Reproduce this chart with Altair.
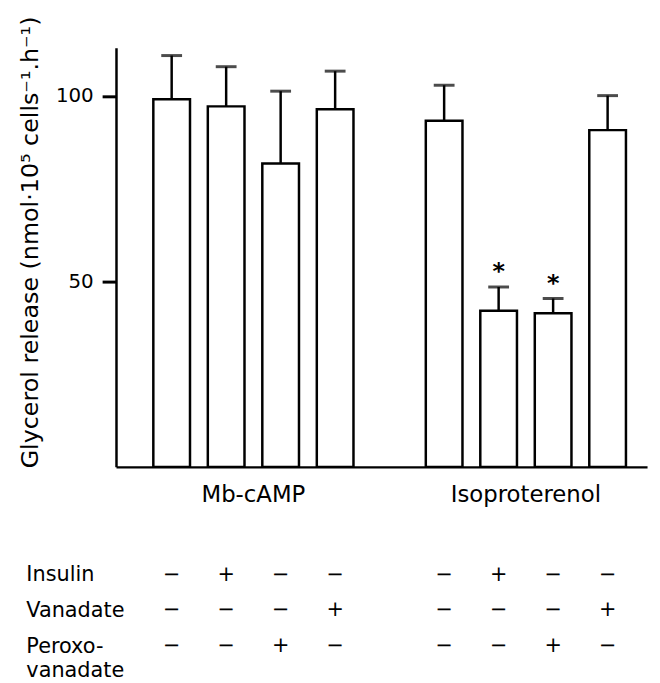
import altair as alt
import pandas as pd

# ---- data ----
groups = ["Mb-cAMP"] * 4 + ["Isoproterenol"] * 4
treatments = ["Control", "Insulin", "Peroxovanadate", "Vanadate"] * 2
means = [99.1, 97.2, 81.8, 96.4, 93.3, 42.1, 41.4, 90.8]
sems = [11.8, 10.7, 19.5, 10.3, 9.6, 6.4, 4.0, 9.3]
significance = ["", "", "", "", "", "*", "*", ""]

row_labels = ["Insulin", "Vanadate", "Peroxo-\nvanadate"]
insulin_signs = ["−", "+", "−", "−", "−", "+", "−", "−"]
vanadate_signs = ["−", "−", "−", "+", "−", "−", "−", "+"]
peroxo_signs = ["−", "−", "+", "−", "−", "−", "+", "−"]

group_order = ["Mb-cAMP", "Isoproterenol"]
treat_order = ["Control", "Insulin", "Peroxovanadate", "Vanadate"]

y_ticks = [50, 100]
y_title = "Glycerol release (nmol·10⁵ cells⁻¹.h⁻¹)"

# ---- tables ----
df = pd.DataFrame({"group": groups, "treatment": treatments,
                   "mean": means, "sem": sems, "sig": significance})
df["upper"] = df["mean"] + df["sem"]

rows = []
for lab, signs in zip(row_labels, [insulin_signs, vanadate_signs, peroxo_signs]):
    for g, t, s in zip(groups, treatments, signs):
        rows.append({"row": lab, "group": g, "treatment": t, "sign": s})
tdf = pd.DataFrame(rows)

FONT = "DejaVu Sans"
W = 536

x_scale = alt.Scale(paddingInner=0.2, paddingOuter=0.0745, align=0.7)
xo_scale = alt.Scale(paddingInner=0.327, paddingOuter=0.1636)


def x_enc(axis):
    return alt.X("group:N", sort=group_order, scale=x_scale, axis=axis)


xo = alt.XOffset("treatment:N", sort=treat_order, scale=xo_scale)

x_axis = alt.Axis(title=None, labelAngle=0, ticks=False, domain=True,
                  domainColor="black", domainWidth=2.5, labelFontSize=23,
                  labelPadding=17, labelColor="black", labelFont=FONT)

y_axis = alt.Axis(values=y_ticks, title=y_title, grid=False, domainColor="black",
                  domainWidth=2.5, tickColor="black", tickWidth=3, tickSize=14,
                  labelPadding=9, labelFontSize=20, labelFont=FONT, labelColor="black",
                  titleFont=FONT, titleFontSize=24, titleFontWeight="normal",
                  titleColor="black", titleX=-86, titleY=196, titleAlign="center",
                  titleBaseline="middle", titleAngle=-90)
y_scale = alt.Scale(domain=[0, 113], nice=False)


def y_enc(field):
    return alt.Y(field + ":Q", scale=y_scale, axis=y_axis)


base = alt.Chart(df)
bars = base.mark_bar(fill="white", stroke="black", strokeWidth=2.5).encode(
    x=x_enc(x_axis), xOffset=xo, y=y_enc("mean"))
err = base.mark_rule(color="black", strokeWidth=2.5).encode(
    x=x_enc(x_axis), xOffset=xo, y=y_enc("mean"), y2="upper:Q")
caps = base.mark_tick(color="black", size=21, thickness=3, orient="horizontal").encode(
    x=x_enc(x_axis), xOffset=xo, y=y_enc("upper"))
stars = base.transform_filter("datum.sig != ''").mark_text(
    font=FONT, fontSize=24, fontWeight="bold", color="black",
    baseline="alphabetic", dy=-8).encode(
    x=x_enc(x_axis), xOffset=xo, y=y_enc("upper"), text="sig:N")

main = alt.layer(bars, err, caps, stars).properties(width=W, height=423)

table = alt.Chart(tdf).mark_text(font=FONT, fontSize=21, color="black",
                                 baseline="alphabetic").encode(
    x=x_enc(None), xOffset=xo,
    y=alt.Y("row:N", sort=row_labels,
            scale=alt.Scale(paddingInner=0, paddingOuter=0),
            axis=alt.Axis(title=None, domain=False, ticks=False, tickSize=0,
                          labelAlign="left", labelPadding=91, labelBaseline="alphabetic",
                          labelFontSize=21, labelFont=FONT, labelColor="black",
                          labelLineHeight=25, labelExpr="split(datum.label, '\\n')")),
    text="sign:N").properties(width=W, height=108)

chart = alt.vconcat(main, table, spacing=57).properties(
    padding={"left": 10, "top": 4, "right": 5, "bottom": 0}
).configure_view(stroke=None)

chart.save("out.html", embed_options={"renderer": "svg", "actions": False})
